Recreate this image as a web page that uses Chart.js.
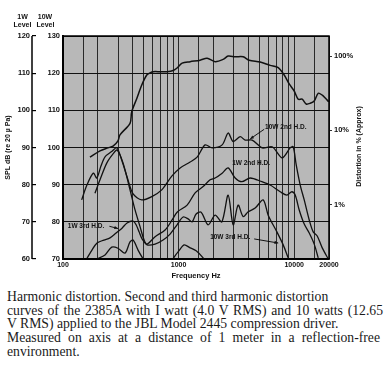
<!DOCTYPE html>
<html><head><meta charset="utf-8">
<script src="https://cdn.jsdelivr.net/npm/chart.js@4/dist/chart.umd.min.js"></script>
<style>
html,body{margin:0;padding:0;background:#fff;}
#wrap{position:relative;width:387px;height:371px;overflow:hidden;}
#c{position:absolute;left:0;top:0;}
#cap{position:absolute;left:7px;top:290px;font-family:"Liberation Serif","Times New Roman",serif;font-size:13.7px;line-height:13.7px;color:#1a1a1a;white-space:nowrap;}
#cap span{display:block;}
#cap .j{text-align:justify;text-align-last:justify;}
</style></head><body>
<div id="wrap">
<canvas id="c" width="387" height="285"></canvas>
<div id="cap"><span>Harmonic distortion. Second and third harmonic distortion</span><span class="j" style="width:376px">curves of the 2385A with I watt (4.0 V RMS) and 10 watts (12.65</span><span>V RMS) applied to the JBL Model 2445 compression driver.</span><span class="j" style="width:373px">Measured on axis at a distance of 1 meter in a reflection-free</span><span>environment.</span></div>
</div>
<script>
// ---- axis data ----
const freqGrid = [100,150,200,300,400,500,600,700,800,900,1000,1500,2000,3000,4000,5000,6000,7000,8000,9000,10000,15000,20000];
const freqLabeled = [100,1000,10000,20000];
const pctTicks = [1,10,100];
const pctRefDb = 124.6; // 10W-level dB that corresponds to 100 %

// ---- series (frequency Hz, dB on 10W scale) ----
const fundFreq = [171,209,245,271,299,311,380,393,435,480,530,567,602,692,795,896,970,1072,1258,1535,1765,2070,2428,2683,3085,3618,4077,5077,6197,7270,8193,9050,10000,10830,11730,12700,13760,14900,16140,17480,18560,19900];
const fundDb = [97.4,99.1,99.9,100.4,101.8,103.4,106.5,109.6,113.2,116.8,119.5,120.1,120.4,120.4,120.4,120.7,121.4,122.7,123.1,123.5,124.0,123.1,123.7,124.6,124.4,124.4,123.5,123.0,122.1,121.5,119.5,117.1,115.2,113.0,113.0,111.7,111.9,112.5,114.6,114.1,113.3,112.3];

const h2w10Freq = [145,161,183,196,213,231,264,292,322,365,404,480,586,715,873,1031,1258,1446,1696,1950,2381,2683,2965,3408,3765,4329,5284,6450,7873,9235,9800,10410,11270,12210,13490,14600,15820,17480,19700];
const h2w10Db = [85.9,89.9,93.1,91.8,95.0,97.5,98.9,99.9,96.6,91.3,87.5,85.9,86.8,88.6,92.3,94.5,96.1,97.4,100.7,99.9,100.7,103.9,101.6,102.9,102.0,102.0,99.9,100.2,97.2,99.9,100.2,95.3,89.9,85.9,80.5,77.3,76.2,73.0,70.0];

const h2w1Freq = [189,209,239,273,294,331,380,420,464,503,534,626,764,879,970,1185,1390,1630,1874,2070,2381,2683,3085,3526,4159,5253,6197,7565,8647,9552,10200,11050,12210,13490,14900,16140];
const h2w1Db = [87.7,91.3,95.8,98.4,99.3,95.8,88.6,83.2,78.7,75.1,74.0,76.0,77.8,80.5,82.6,84.5,87.8,89.5,91.3,91.8,93.1,94.5,91.8,90.8,91.8,90.8,89.9,88.1,87.2,88.1,87.2,83.2,79.4,77.0,74.0,70.3];

const h3w10Freq = [160,178,197,226,255,288,324,358,404,429,455,483,534,626,734,844,970,1094,1208,1309,1418,1566,1801,2070,2366,2683,2965,3275,3618,3997,4595,5389,5955,7083,8032,8873,9500];
const h3w10Db = [70.0,72.4,74.3,75.1,75.7,77.0,78.3,79.7,80.2,79.2,77.3,75.4,73.8,74.0,75.1,76.7,79.2,81.3,80.8,80.0,82.1,82.6,79.2,81.8,80.0,87.2,79.2,84.5,81.4,82.7,83.7,85.9,81.8,77.3,73.8,70.3,68.0];

const h3w1Freq = [196,231,264,299,344,380,404,446,483,523,700,990,1116,1258,1418,1630,1837];
const h3w1Db = [70.0,71.1,73.2,72.9,71.6,74.6,75.1,72.4,70.5,68.9,66.5,71.9,73.8,73.0,72.2,70.3,68.1];

const seriesNames = ['Fundamental','10W 2nd H.D.','1W 2nd H.D.','10W 3rd H.D.','1W 3rd H.D.'];

// annotations (text anchors in data space)
const notes = [
  {t:'10W 2nd H.D.', f:5600, db:105.4, from:[5500,104.9], to:[4160,102.3]},
  {t:'1W 2nd H.D.',  f:2905, db:95.8},
  {t:'1W 3rd H.D.',  f:110,  db:78.9, from:[252,78.8], to:[299,78.2]},
  {t:'10W 3rd H.D.', f:1874, db:75.9, from:[4505,75.4], to:[7270,74.3]}
];

function pts(f, d){ return f.map((x,i)=>({x:x, y:d[i]})); }

const FONT = '"Liberation Sans", Arial, sans-serif';

const deco = {
  id:'deco',
  beforeDraw(chart){
    const a = chart.chartArea, c = chart.ctx;
    c.save(); c.fillStyle = '#b8b8b8';
    c.fillRect(a.left, a.top, a.right-a.left, a.bottom-a.top);
    c.restore();
  },
  afterDraw(chart){
    const c = chart.ctx, a = chart.chartArea, sx = chart.scales.x, sy = chart.scales.y, s1 = chart.scales.y1;
    c.save();
    c.strokeStyle = '#000'; c.lineWidth = 1.5;
    c.strokeRect(a.left, a.top, a.right-a.left, a.bottom-a.top);
    // 1W level axis line
    const lx = s1.right - 4;
    c.beginPath(); c.moveTo(lx, a.top); c.lineTo(lx, a.bottom); c.stroke();
    // headers
    c.fillStyle = '#111'; c.font = 'bold 7px ' + FONT; c.textAlign = 'center'; c.textBaseline = 'middle';
    c.fillText('1W', s1.left + 22.5, 17.5); c.fillText('Level', s1.left + 22.5, 25.5);
    c.fillText('10W', sy.left + 9, 17.5); c.fillText('Level', sy.left + 9.5, 25.5);
    // right title
    c.save(); c.translate(a.right + 30, (a.top + a.bottom)/2 - 1); c.rotate(-Math.PI/2);
    c.fillText('Distortion in % (Approx)', 0, 0); c.restore();
    // curve notes
    c.textAlign = 'left'; c.font = 'bold 6.5px ' + FONT;
    notes.forEach(n => {
      const x = sx.getPixelForValue(n.f), y = sy.getPixelForValue(n.db);
      c.fillText(n.t, x, y);
      if (n.from) {
        const x1 = sx.getPixelForValue(n.from[0]), y1 = sy.getPixelForValue(n.from[1]);
        const x2 = sx.getPixelForValue(n.to[0]), y2 = sy.getPixelForValue(n.to[1]);
        c.lineWidth = 0.9; c.beginPath(); c.moveTo(x1,y1); c.lineTo(x2,y2); c.stroke();
        const ang = Math.atan2(y2-y1, x2-x1);
        c.beginPath(); c.moveTo(x2,y2);
        c.lineTo(x2 - 4*Math.cos(ang-0.4), y2 - 4*Math.sin(ang-0.4));
        c.lineTo(x2 - 4*Math.cos(ang+0.4), y2 - 4*Math.sin(ang+0.4));
        c.closePath(); c.fill();
      }
    });
    c.restore();
  }
};

const ds = (label, f, d, w) => ({label, data: pts(f,d), borderColor:'#111', borderWidth:w, pointRadius:0, tension:0.3, fill:false, yAxisID:'y'});

new Chart(document.getElementById('c'), {
  type:'line',
  data:{ datasets:[
    ds(seriesNames[0], fundFreq, fundDb, 1.5),
    ds(seriesNames[1], h2w10Freq, h2w10Db, 1.3),
    ds(seriesNames[2], h2w1Freq, h2w1Db, 1.3),
    ds(seriesNames[3], h3w10Freq, h3w10Db, 1.3),
    ds(seriesNames[4], h3w1Freq, h3w1Db, 1.3)
  ]},
  options:{
    responsive:false, animation:false, devicePixelRatio:1,
    layout:{padding:{top:36,left:0,right:0,bottom:0}},
    plugins:{legend:{display:false}, tooltip:{enabled:false}},
    scales:{
      x:{type:'logarithmic', min:100, max:20000,
         afterBuildTicks: s => { s.ticks = freqGrid.map(v=>({value:v})); },
         afterFit: s => { s.height = 26; },
         grid:{color:'#2a2a2a', lineWidth:1, drawTicks:false},
         border:{display:true, color:'#000', width:1.5},
         ticks:{autoSkip:false, maxRotation:0, minRotation:0, padding:2, color:'#111', font:{family:FONT, size:7, weight:'bold'},
                callback: v => freqLabeled.includes(v) ? String(v) : ''},
         title:{display:true, text:'Frequency Hz', color:'#111', font:{family:FONT, size:7.5, weight:'bold'}, padding:{top:0,bottom:5}}
      },
      y:{type:'linear', position:'left', min:70, max:130, weight:0,
         ticks:{stepSize:10, padding:3, color:'#111', font:{family:FONT, size:7.5, weight:'bold'}},
         afterFit: s => { s.width = 27; },
         grid:{color:'#111', lineWidth:1, drawTicks:false},
         border:{display:true, color:'#000', width:2}
      },
      y1:{type:'linear', position:'left', min:60, max:120, weight:1,
         ticks:{stepSize:10, padding:2, color:'#111', font:{family:FONT, size:7.5, weight:'bold'}},
         afterFit: s => { s.width = 36; },
         grid:{drawOnChartArea:false, drawTicks:true, tickLength:4, color:'#000', lineWidth:1.2},
         border:{display:false},
         title:{display:true, text:'SPL dB (re 20 \u00b5 Pa)', color:'#111', font:{family:FONT, size:7, weight:'bold'}, padding:{top:4,bottom:0}}
      },
      y2:{type:'logarithmic', position:'right',
         min: 100*Math.pow(10,(70-pctRefDb)/20), max: 100*Math.pow(10,(130-pctRefDb)/20),
         afterBuildTicks: s => { s.ticks = pctTicks.map(v=>({value:v})); },
         afterFit: s => { s.width = 58; },
         ticks:{padding:2, color:'#111', font:{family:FONT, size:7.5, weight:'bold'}, callback: v => v + '%'},
         grid:{drawOnChartArea:false, drawTicks:true, tickLength:3, color:'#333'},
         border:{display:false}
      }
    }
  },
  plugins:[deco]
});
</script>
</body></html>
